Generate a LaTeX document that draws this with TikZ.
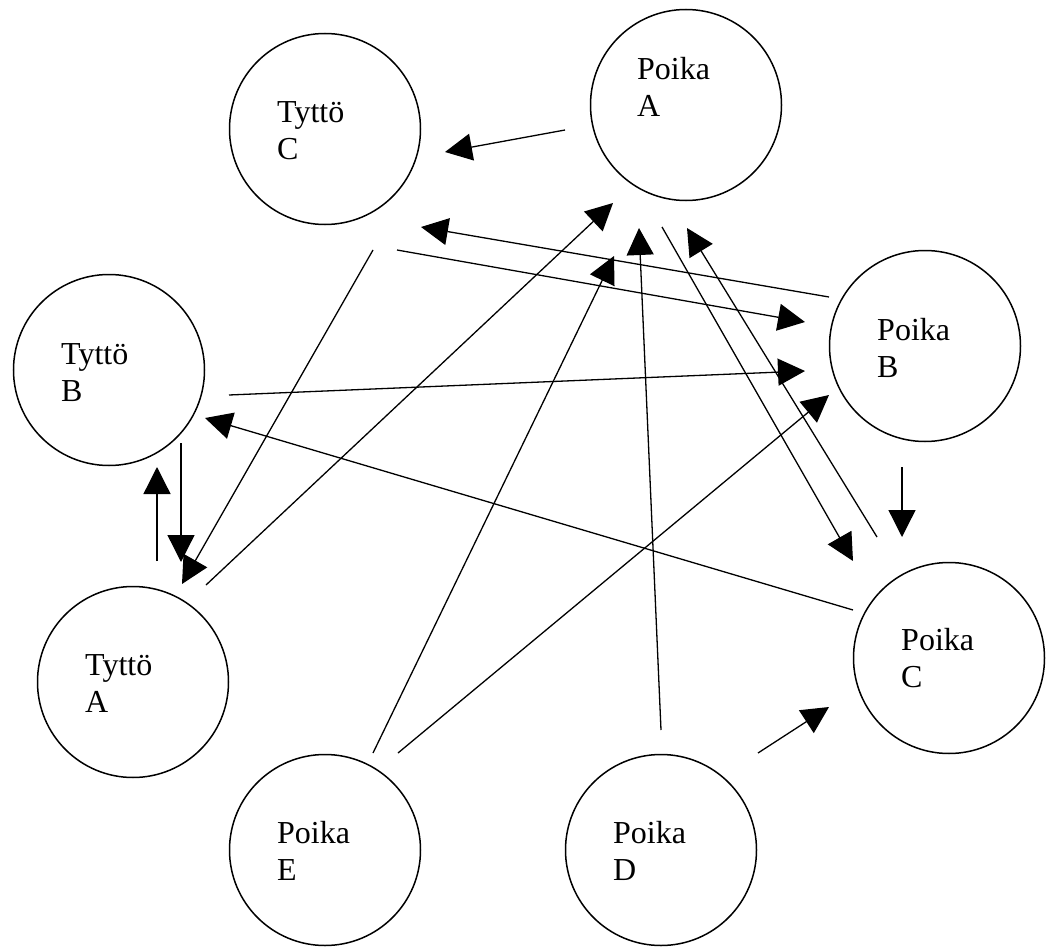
\documentclass[tikz,border=0pt]{standalone}
\usepackage{fontspec}
\setmainfont{Liberation Serif}
\usetikzlibrary{arrows.meta}
\begin{document}
\begin{tikzpicture}[x=1pt,y=-1pt,
  person/.style={circle, draw, line width=1.5pt, minimum size=191pt, inner sep=0pt},
  lbl/.style={anchor=base west, inner sep=0pt, font=\fontsize{32}{37}\selectfont},
  conn/.style={line width=1.3pt, -{Triangle[length=27pt,width=27pt]}}]
\useasboundingbox (0,0) rectangle (1050,947);
% persons
\node[person] (tc) at (325,129) {};
\node[person] (pa) at (686,105) {};
\node[person] (tb) at (109,370) {};
\node[person] (pb) at (925,346) {};
\node[person] (ta) at (133,682) {};
\node[person] (pc) at (949,658) {};
\node[person] (pe) at (325,850) {};
\node[person] (pd) at (661,850) {};
% labels
\node[lbl] (tc1) at (277,123) {Tyttö}; \node[lbl] (tc2) at (277,160) {C};
\node[lbl] (pa1) at (637,80) {Poika}; \node[lbl] (pa2) at (637,117) {A};
\node[lbl] (tb1) at (61,364) {Tyttö}; \node[lbl] (tb2) at (61,401) {B};
\node[lbl] (pb1) at (877,340) {Poika}; \node[lbl] (pb2) at (877,377) {B};
\node[lbl] (ta1) at (85,675) {Tyttö}; \node[lbl] (ta2) at (85,712) {A};
\node[lbl] (pc1) at (901,650) {Poika}; \node[lbl] (pc2) at (901,687) {C};
\node[lbl] (pe1) at (277,843) {Poika}; \node[lbl] (pe2) at (277,880) {E};
\node[lbl] (pd1) at (613,843) {Poika}; \node[lbl] (pd2) at (613,880) {D};
% connector end points
\coordinate (paTCs) at (565,130); \coordinate (paTCe) at (445,152);
\coordinate (pbTCs) at (829,297); \coordinate (pbTCe) at (421,227);
\coordinate (tcPBs) at (397,250); \coordinate (tcPBe) at (805,322);
\coordinate (tcTAs) at (373,250); \coordinate (tcTAe) at (182,584);
\coordinate (taPAs) at (206,585); \coordinate (taPAe) at (613,203);
\coordinate (taTBs) at (157,561); \coordinate (taTBe) at (157,467);
\coordinate (tbTAs) at (181,443); \coordinate (tbTAe) at (181,562);
\coordinate (tbPBs) at (229,395); \coordinate (tbPBe) at (805,371);
\coordinate (pcTBs) at (853,610); \coordinate (pcTBe) at (205,418);
\coordinate (pePAs) at (373,753); \coordinate (pePAe) at (614,256);
\coordinate (pdPAs) at (661,730); \coordinate (pdPAe) at (639,228);
\coordinate (paPCs) at (662,227); \coordinate (paPCe) at (853,561);
\coordinate (pcPAs) at (877,537); \coordinate (pcPAe) at (687,228);
\coordinate (pePBs) at (398,753); \coordinate (pePBe) at (829,395);
\coordinate (pbPCs) at (902,467); \coordinate (pbPCe) at (902,537);
\coordinate (pdPCs) at (758,753); \coordinate (pdPCe) at (829,707);
% connectors
\draw[conn] (paTCs) -- (paTCe);
\draw[conn] (pbTCs) -- (pbTCe);
\draw[conn] (tcPBs) -- (tcPBe);
\draw[conn] (tcTAs) -- (tcTAe);
\draw[conn] (taPAs) -- (taPAe);
\draw[conn] (taTBs) -- (taTBe);
\draw[conn] (tbTAs) -- (tbTAe);
\draw[conn] (tbPBs) -- (tbPBe);
\draw[conn] (pcTBs) -- (pcTBe);
\draw[conn] (pePAs) -- (pePAe);
\draw[conn] (pdPAs) -- (pdPAe);
\draw[conn] (paPCs) -- (paPCe);
\draw[conn] (pcPAs) -- (pcPAe);
\draw[conn] (pePBs) -- (pePBe);
\draw[conn] (pbPCs) -- (pbPCe);
\draw[conn] (pdPCs) -- (pdPCe);
\end{tikzpicture}
\end{document}
